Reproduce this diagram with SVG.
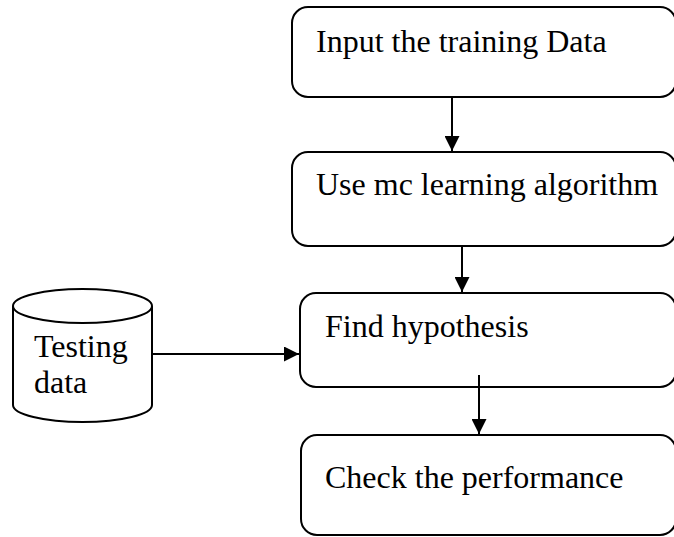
<svg xmlns="http://www.w3.org/2000/svg" width="674" height="537" viewBox="0 0 674 537">
  <style>
    .box { fill: #fff; stroke: #000; stroke-width: 2; }
    .lbl { font-family: "Liberation Serif", "Times New Roman", serif; font-size: 32px; fill: #000; }
    .edge { stroke: #000; stroke-width: 2; fill: none; marker-end: url(#arrow); }
  </style>
  <defs>
    <marker id="arrow" viewBox="0 0 10 10" refX="10" refY="5" markerWidth="7.5" markerHeight="7.5" markerUnits="strokeWidth" orient="auto">
      <path d="M0,0 L10,5 L0,10 z" fill="#000"/>
    </marker>
  </defs>
  <rect width="674" height="537" fill="#fff"/>

  <g id="input">
    <rect class="box" x="292" y="7" width="384" height="90" rx="16"/>
    <text class="lbl" x="316" y="52">Input the training Data</text>
  </g>
  <g id="algorithm">
    <rect class="box" x="292" y="152" width="384" height="94" rx="16"/>
    <text class="lbl" x="316" y="195">Use mc learning algorithm</text>
  </g>
  <g id="hypothesis">
    <rect class="box" x="300" y="293" width="376" height="94" rx="16"/>
    <text class="lbl" x="325" y="337">Find hypothesis</text>
  </g>
  <g id="performance">
    <rect class="box" x="301" y="435" width="375" height="100" rx="16"/>
    <text class="lbl" x="325" y="488">Check the performance</text>
  </g>
  <g id="testing">
    <path class="box" d="M13,306 L13,405 A69.5,17 0 0 0 152,405 L152,306"/>
    <ellipse class="box" cx="82.5" cy="306" rx="69.5" ry="17"/>
    <text class="lbl" x="34" y="357">Testing</text>
    <text class="lbl" x="34" y="393">data</text>
  </g>

  <g id="connectors">
    <line class="edge" x1="452" y1="97" x2="452" y2="151"/>
    <line class="edge" x1="462" y1="246" x2="462" y2="292"/>
    <line class="edge" x1="479" y1="375" x2="479" y2="434"/>
    <line class="edge" x1="152" y1="354" x2="299" y2="354"/>
  </g>
</svg>
